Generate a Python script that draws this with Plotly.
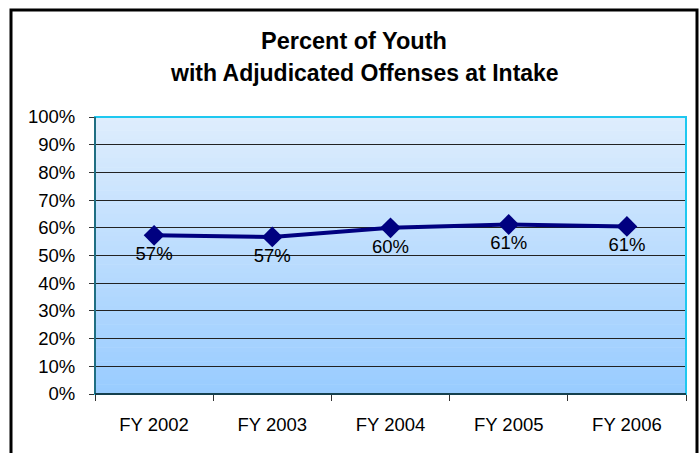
import plotly.graph_objects as go

# Data
years = ["FY 2002", "FY 2003", "FY 2004", "FY 2005", "FY 2006"]
pct_values = [0.573, 0.567, 0.600, 0.612, 0.605]
pct_labels = ["57%", "57%", "60%", "61%", "61%"]
y_ticks = [i / 10 for i in range(11)]
y_tick_labels = [f"{i * 10}%" for i in range(11)]

FONT = "Liberation Sans, Arial, sans-serif"
W, H = 700, 453
L, R, T, B = 95, 14, 117, 59
PW, PH = W - L - R, H - T - B
TXT = 18.5


def lerp_color(c0, c1, t):
    return "rgb({},{},{})".format(*[round(a + (b - a) * t) for a, b in zip(c0, c1)])


top_col = (222, 237, 253)
bot_col = (153, 204, 255)

shapes = []
# vertical gradient of the plotting area, drawn beneath the gridlines
n = 60
for i in range(n):
    t = i / (n - 1)
    shapes.append(dict(
        type="rect", xref="x domain", yref="y domain",
        x0=0, x1=1, y0=1 - (i + 1) / n, y1=1 - i / n + 0.002,
        fillcolor=lerp_color(top_col, bot_col, t), line=dict(width=0),
        layer="below",
    ))
# plot border (light blue top/right), darker left/bottom
shapes.append(dict(type="rect", xref="x domain", yref="y domain", x0=0, x1=1, y0=0, y1=1,
                   line=dict(color="#1EC8F0", width=2), layer="above"))
shapes.append(dict(type="line", xref="x domain", yref="y domain", x0=0, x1=0, y0=0, y1=1,
                   line=dict(color="#1F6E82", width=2), layer="above"))
shapes.append(dict(type="line", xref="x domain", yref="y domain", x0=0, x1=1, y0=0, y1=0,
                   line=dict(color="#15404E", width=2), layer="above"))
# outer chart frame
shapes.append(dict(
    type="rect", xref="paper", yref="paper",
    x0=(11 - L) / PW, x1=(697 - L) / PW,
    y0=(H - B - 470) / PH, y1=(H - B - 10) / PH,
    line=dict(color="black", width=3), fillcolor="rgba(0,0,0,0)", layer="above",
))

fig = go.Figure()
fig.add_trace(go.Scatter(
    x=years, y=pct_values,
    mode="lines+markers+text",
    line=dict(color="#000080", width=4),
    marker=dict(symbol="diamond", size=16, color="#000080"),
    text=pct_labels, textposition="bottom center",
    textfont=dict(family=FONT, size=TXT, color="black"),
    cliponaxis=False,
    showlegend=False,
))

fig.update_layout(
    width=W, height=H,
    margin=dict(l=L, r=R, t=T, b=B),
    paper_bgcolor="white",
    plot_bgcolor="rgba(0,0,0,0)",
    font=dict(family=FONT, size=TXT, color="black"),
    shapes=shapes,
    annotations=[
        dict(text="<b>Percent of Youth</b>", xref="paper", yref="paper",
             x=(354 - L) / PW, y=(H - B - 41) / PH, showarrow=False,
             font=dict(family=FONT, size=23.5, color="black"), xanchor="center", yanchor="middle"),
        dict(text="<b>with Adjudicated Offenses at Intake</b>", xref="paper", yref="paper",
             x=(364 - L) / PW, y=(H - B - 73) / PH, showarrow=False,
             font=dict(family=FONT, size=23, color="black"), xanchor="center", yanchor="middle"),
    ],
    xaxis=dict(
        type="category", range=[-0.5, 4.5],
        tickson="boundaries", ticks="outside", ticklen=6, tickcolor="#333",
        showgrid=False, showline=False, zeroline=False,
        tickfont=dict(family=FONT, size=TXT),
        ticklabelstandoff=17,
    ),
    yaxis=dict(
        range=[0, 1], tickvals=y_ticks, ticktext=y_tick_labels,
        ticks="outside", ticklen=5, tickcolor="#333",
        showgrid=True, gridcolor="#222", gridwidth=1,
        showline=False, zeroline=False,
        tickfont=dict(family=FONT, size=TXT),
        ticklabelstandoff=10,
    ),
)

fig.write_html("out.html")
